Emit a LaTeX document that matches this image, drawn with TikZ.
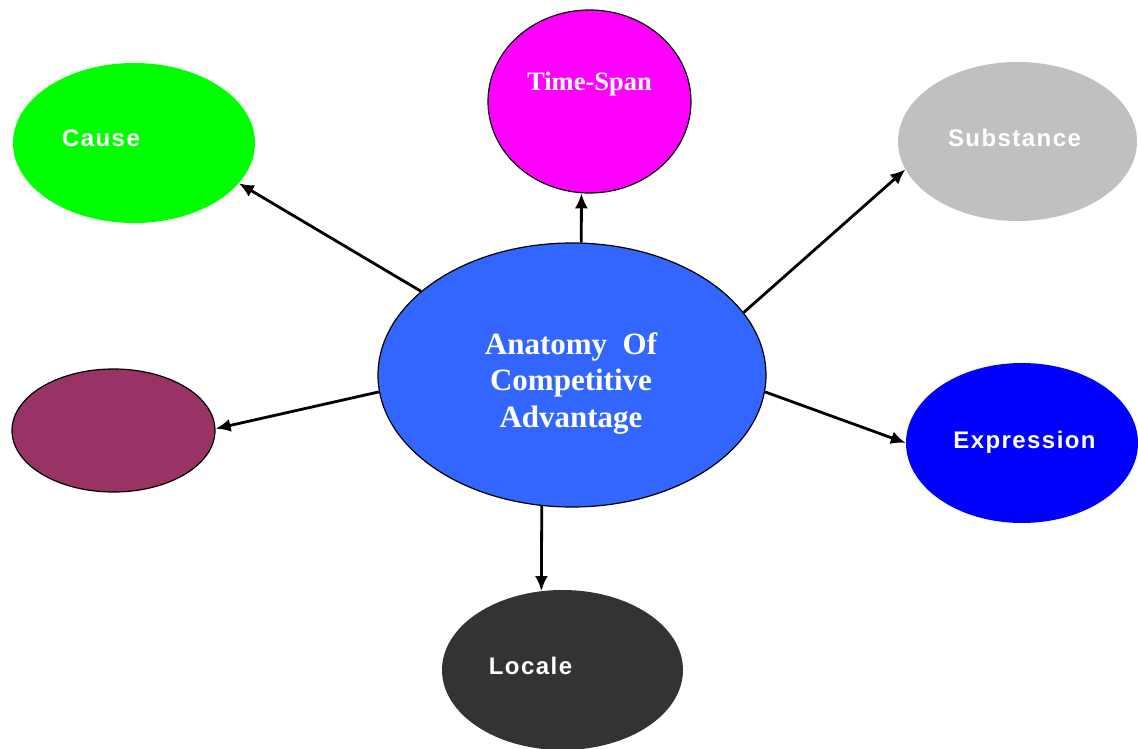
\documentclass[tikz,border=0pt]{standalone}
\usepackage{fontspec}
\setmainfont{Liberation Serif}
\newfontfamily\lsans[LetterSpace=6]{Liberation Sans}
\usetikzlibrary{arrows.meta,shapes.geometric}
\definecolor{cgreen}{HTML}{00FF00}
\definecolor{cmagenta}{HTML}{FF00FF}
\definecolor{cgrey}{HTML}{C0C0C0}
\definecolor{cmaroon}{HTML}{993366}
\definecolor{cblue}{HTML}{0000FF}
\definecolor{cdark}{HTML}{333333}
\definecolor{ccore}{HTML}{3366FF}
\begin{document}
\begin{tikzpicture}[x=1pt,y=-1pt,
  bubble/.style={ellipse,inner sep=0pt},
  outlined/.style={draw=black,line width=1.2pt},
  sanslabel/.style={anchor=base,text=white,font=\lsans\bfseries\fontsize{24}{28}\selectfont,inner sep=0pt},
  seriflabel/.style={text=white,font=\bfseries\fontsize{26.5}{30}\selectfont,inner sep=0pt},
  arr/.style={line width=2.8pt,-{Latex[length=15pt,width=13pt]}}]
\useasboundingbox (0,0) rectangle (1138,749);
\fill[white] (0,0) rectangle (1138,749);
% bubbles
\node[bubble,fill=cgreen,minimum width=242pt,minimum height=160pt] (cause) at (134,143) {};
\node[bubble,outlined,fill=cmagenta,minimum width=203pt,minimum height=183pt] (timespan) at (589.5,101.5) {};
\node[bubble,fill=cgrey,minimum width=239pt,minimum height=159pt] (substance) at (1017.5,141.5) {};
\node[bubble,outlined,fill=cmaroon,minimum width=203pt,minimum height=123pt] (blank) at (113.5,430.5) {};
\node[bubble,fill=cblue,minimum width=232pt,minimum height=160pt] (expression) at (1022,443) {};
\node[bubble,fill=cdark,minimum width=241pt,minimum height=160pt] (locale) at (562.5,670) {};
\node[bubble,outlined,fill=ccore,minimum width=388pt,minimum height=264pt] (core) at (572,375) {};
% labels
\node[sanslabel] (causeT) at (101,147) {Cause};
\node[seriflabel,anchor=base] (timespanT) at (589.5,91) {Time-Span};
\node[sanslabel] (substanceT) at (1014.5,147) {Substance};
\node[sanslabel] (expressionT) at (1024.5,448) {Expression};
\node[sanslabel] (localeT) at (530.5,674) {Locale};
\node[text=white,align=center,inner sep=0pt,font=\bfseries\fontsize{31}{36.5}\selectfont] (coreT) at (571,383.5) {Anatomy\ \ Of\\Competitive\\Advantage};
% connectors
\draw[arr] (core.151) -- (cause.-21);
\draw[arr] (core.86) -- (timespan.-95);
\draw[arr] (core.20) -- (substance.194);
\draw[arr] (core.185) -- (blank.1);
\draw[arr] (core.-5) -- (expression.180);
\draw[arr] (core.-103) -- (locale.105);
\end{tikzpicture}
\end{document}
